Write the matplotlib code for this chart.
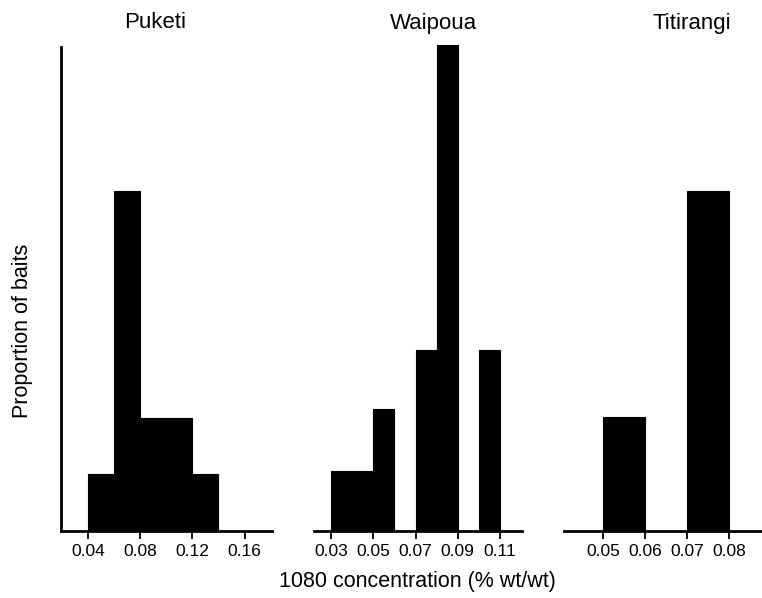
import numpy as np
import matplotlib.pyplot as plt

plt.rcParams['font.family'] = ['Liberation Sans', 'DejaVu Sans']

# histogram bins (left edges, width) and proportion of baits per bin
puketi_edges = [0.04, 0.06, 0.08, 0.10, 0.12]
puketi_props = [0.047, 0.281, 0.093, 0.093, 0.047]
puketi_width = 0.02

waipoua_edges = [0.03, 0.04, 0.05, 0.07, 0.08, 0.10]
waipoua_props = [0.050, 0.050, 0.101, 0.150, 0.402, 0.150]
waipoua_width = 0.01

titirangi_edges = [0.05, 0.07]
titirangi_props = [0.094, 0.281]
titirangi_width = 0.01

puketi_ticks = [0.04, 0.08, 0.12, 0.16]
waipoua_ticks = [0.03, 0.05, 0.07, 0.09, 0.11]
titirangi_ticks = [0.05, 0.06, 0.07, 0.08]

W, H = 762, 598
fig = plt.figure(figsize=(W / 100, H / 100), dpi=100)


def px_rect(x0, x1, ytop, ybot):
    return [x0 / W, 1 - ybot / H, (x1 - x0) / W, (ybot - ytop) / H]


panels = [
    ("Puketi", puketi_edges, puketi_props, puketi_width, puketi_ticks,
     (0.0195, 0.181), px_rect(61, 272, 47, 531), 155),
    ("Waipoua", waipoua_edges, waipoua_props, waipoua_width, waipoua_ticks,
     (0.0219, 0.1204), px_rect(314, 522, 47, 531), 433),
    ("Titirangi", titirangi_edges, titirangi_props, titirangi_width, titirangi_ticks,
     (0.0407, 0.0879), px_rect(564, 762, 47, 531), 692),
]

for i, (name, edges, props, w, ticks, xlim, rect, tx) in enumerate(panels):
    ax = fig.add_axes(rect)
    ax.bar(edges, props, width=w, align='edge', color='black', edgecolor='black',
           linewidth=0.8, clip_on=False)
    ax.set_xlim(*xlim)
    ax.set_ylim(0, 0.40)
    ax.set_xticks(ticks)
    ax.set_xticklabels([f"{t:.2f}" for t in ticks], fontsize=12.5)
    ax.set_yticks([])
    for side in ['top', 'right']:
        ax.spines[side].set_visible(False)
    if i > 0:
        ax.spines['left'].set_visible(False)
    else:
        ax.spines['left'].set_linewidth(2)
    ax.spines['bottom'].set_linewidth(2)
    ax.tick_params(axis='x', direction='out', length=6, width=1.3, pad=3)
    fig.text(tx / W, 1 - 23 / H, name, ha='center', va='center', fontsize=16)

fig.text(23 / W, 1 - 331 / H, "Proportion of baits", rotation=90,
         ha='center', va='center', fontsize=15.5)
fig.text(417 / W, 1 - 582 / H, "1080 concentration (% wt/wt)", ha='center',
         va='center', fontsize=15.5)

fig.savefig("out.png", dpi=100)
